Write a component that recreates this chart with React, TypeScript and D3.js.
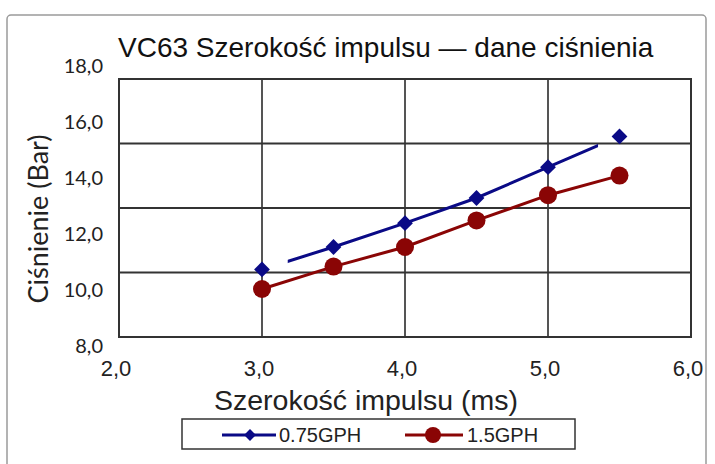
import React from 'react'
import * as d3 from 'd3'

// pulse width (ms) vs pressure (bar)
const pulseWidths = [3.0, 3.5, 4.0, 4.5, 5.0, 5.5]
const pressure075 = [10.7, 11.5, 12.35, 13.25, 14.35, 15.45]
const pressure15 = [10.0, 10.8, 11.5, 12.45, 13.35, 14.05]
const xTicks = [2, 3, 4, 5, 6]
const yTicks = [8, 10, 12, 14, 16, 18]
// the blue line is only drawn over this part of the range
const blueLineFrom = 3.18
const blueLineTo = 5.35

const BLUE = '#0a0a86'
const RED = '#8a0505'
const fmt = (v: number) => v.toFixed(1).replace('.', ',')

export default function App() {
    const width = 715
    const height = 464
    const frame = { left: 119, right: 691, top: 79, bottom: 337 }

    const x = d3.scaleLinear().domain([2, 6]).range([frame.left, frame.right])
    const y = d3.scaleLinear().domain([8, 18]).range([345, 65])
    // horizontal grid splits the frame into 4 equal bands
    const band = d3.scaleLinear().domain([0, 4]).range([frame.bottom, frame.top])

    const line = d3.line<number>()
        .x((d, i) => x(pulseWidths[i]))
        .y(d => y(d))

    // square turned 45deg -> diamond
    const diamond = d3.symbol().type(d3.symbolSquare).size(125)()

    return (
        <svg width={width} height={height} style={{ position: 'absolute', left: 0, top: 0, background: '#fff' }}>
            <defs>
                <clipPath id="blue-clip">
                    <rect x={x(blueLineFrom)} y={0} width={x(blueLineTo) - x(blueLineFrom)} height={height} />
                </clipPath>
            </defs>
            {/* outer border */}
            <rect x={7} y={15} width={699} height={470} rx={4} fill="none" stroke="#9a9a9a" strokeWidth={1.5} />

            <text x={118} y={57} fontFamily="Liberation Sans, Arial, sans-serif" fontSize={28} fill="#111">
                VC63 Szerokość impulsu — dane ciśnienia
            </text>

            {/* grid */}
            {[3, 4, 5].map(t => (
                <line key={t} x1={x(t)} x2={x(t)} y1={frame.top} y2={frame.bottom} stroke="#555" strokeWidth={2} />
            ))}
            {[1, 2, 3].map(b => (
                <line key={b} x1={frame.left} x2={frame.right} y1={band(b)} y2={band(b)} stroke="#333" strokeWidth={2} />
            ))}
            <rect x={frame.left} y={frame.top} width={frame.right - frame.left} height={frame.bottom - frame.top}
                fill="none" stroke="#333" strokeWidth={2} />

            {/* y axis */}
            {yTicks.map(t => (
                <text key={t} x={103} y={y(t)} textAnchor="end" dominantBaseline="central"
                    fontFamily="Lato, sans-serif" fontSize={20} fill="#222">{fmt(t)}</text>
            ))}
            <text transform={`translate(37, 219) rotate(-90)`} textAnchor="middle" dominantBaseline="central"
                fontFamily="Lato, sans-serif" fontSize={27} fill="#222">Ciśnienie (Bar)</text>

            {/* x axis */}
            {xTicks.map(t => (
                <text key={t} x={x(t) - 3} y={368} textAnchor="middle" dominantBaseline="central"
                    fontFamily="Liberation Sans, Arial, sans-serif" fontSize={22} fill="#222">{fmt(t)}</text>
            ))}
            <text x={366} y={400} textAnchor="middle" dominantBaseline="central"
                fontFamily="Liberation Sans, Arial, sans-serif" fontSize={28.5} fill="#222">Szerokość impulsu (ms)</text>

            {/* series */}
            <path d={line(pressure15) ?? ''} fill="none" stroke={RED} strokeWidth={3} />
            {pressure15.map((v, i) => (
                <circle key={i} cx={x(pulseWidths[i])} cy={y(v)} r={9} fill={RED} />
            ))}
            <path d={line(pressure075) ?? ''} fill="none" stroke={BLUE} strokeWidth={3} clipPath="url(#blue-clip)" />
            {pressure075.map((v, i) => (
                <path key={i} d={diamond ?? ''} transform={`translate(${x(pulseWidths[i])},${y(v)}) rotate(45)`} fill={BLUE} />
            ))}

            {/* legend */}
            <rect x={182} y={419} width={393} height={30} fill="#fff" stroke="#333" strokeWidth={1.5} />
            <line x1={222} x2={276} y1={435} y2={435} stroke={BLUE} strokeWidth={3} />
            <path d={diamond ?? ''} transform="translate(250,435) rotate(45) scale(0.75)" fill={BLUE} />
            <text x={279} y={435} dominantBaseline="central" fontFamily="Liberation Sans, Arial, sans-serif"
                fontSize={20} fill="#222">0.75GPH</text>
            <line x1={405} x2={463} y1={435} y2={435} stroke={RED} strokeWidth={3} />
            <circle cx={433} cy={435} r={8} fill={RED} />
            <text x={467} y={435} dominantBaseline="central" fontFamily="Liberation Sans, Arial, sans-serif"
                fontSize={20} fill="#222">1.5GPH</text>
        </svg>
    )
}
